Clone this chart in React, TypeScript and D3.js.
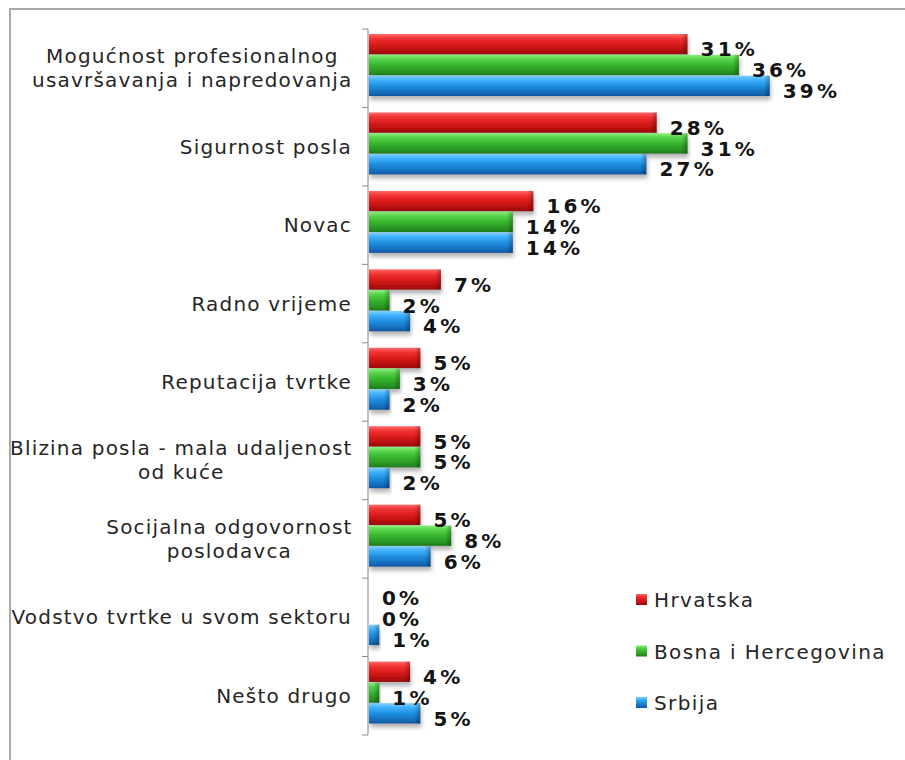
import React from "react";
import * as d3 from "d3";

const categories: string[][] = [
  ["Mogućnost profesionalnog", "usavršavanja i napredovanja"],
  ["Sigurnost posla"],
  ["Novac"],
  ["Radno vrijeme"],
  ["Reputacija tvrtke"],
  ["Blizina posla - mala udaljenost", "od kuće"],
  ["Socijalna odgovornost", "poslodavca"],
  ["Vodstvo tvrtke u svom sektoru"],
  ["Nešto drugo"],
];
const seriesNames = ["Hrvatska", "Bosna i Hercegovina", "Srbija"];
const hrvatska = [31, 28, 16, 7, 5, 5, 5, 0, 4];
const bih = [36, 31, 14, 2, 3, 5, 8, 0, 1];
const srbija = [39, 27, 14, 4, 2, 2, 6, 1, 5];
const seriesValues = [hrvatska, bih, srbija];

const palettes = [
  { id: "gRed", stops: ["#ff6a6a", "#f23434", "#dc1c1c", "#b81010", "#960a0a"] },
  { id: "gGreen", stops: ["#8cf07c", "#55d348", "#38b52e", "#2a9824", "#1f7a1a"] },
  { id: "gBlue", stops: ["#7fd0ff", "#3fb0ff", "#1f8fe0", "#1570c0", "#0f58a0"] },
];

const W = 905;
const H = 760;
const FONT = "'DejaVu Sans', Verdana, sans-serif";
const CAT_SIZE = 20;
const CAT_LS = 1.2;

let measureCtx: CanvasRenderingContext2D | null = null;
function textWidth(s: string, size: number, ls: number): number {
  if (!measureCtx) {
    const c = document.createElement("canvas");
    measureCtx = c.getContext("2d");
  }
  if (!measureCtx) return s.length * size * 0.6;
  measureCtx.font = `${size}px 'DejaVu Sans'`;
  return measureCtx.measureText(s).width + ls * (s.length - 1);
}

export default function App() {
  const y0 = d3.scaleBand<number>().domain(d3.range(categories.length)).range([29, 735]);
  const y1 = d3.scaleBand<number>().domain([0, 1, 2]).range([5, 67]).paddingInner(0.02);
  const x = d3.scaleLinear().domain([0, 40]).range([369, 780]);
  const axisX = 368;
  const labelRight = 352;

  return (
    <svg
      width={W}
      height={H}
      style={{ position: "absolute", left: 0, top: 0, display: "block", background: "#fff" }}
    >
      <defs>
        {palettes.map((p) => (
          <linearGradient key={p.id} id={p.id} x1="0" y1="0" x2="0" y2="1">
            <stop offset="0%" stopColor={p.stops[0]} />
            <stop offset="22%" stopColor={p.stops[1]} />
            <stop offset="50%" stopColor={p.stops[2]} />
            <stop offset="80%" stopColor={p.stops[3]} />
            <stop offset="100%" stopColor={p.stops[4]} />
          </linearGradient>
        ))}
        <linearGradient id="capShade" x1="0" y1="0" x2="1" y2="0">
          <stop offset="0%" stopColor="#000" stopOpacity={0} />
          <stop offset="100%" stopColor="#000" stopOpacity={0.28} />
        </linearGradient>
        <filter id="shadow" x="-5%" y="-20%" width="115%" height="160%">
          <feDropShadow dx="1" dy="4" stdDeviation="2" floodColor="#777" floodOpacity="0.55" />
        </filter>
      </defs>

      {/* frame */}
      <line x1={10} y1={9} x2={W} y2={9} stroke="#aaa" strokeWidth={2} />
      <line x1={10} y1={8} x2={10} y2={H} stroke="#aaa" strokeWidth={2} />

      {/* axis */}
      <line x1={axisX} y1={29} x2={axisX} y2={735} stroke="#888" strokeWidth={1} />
      {d3.range(categories.length + 1).map((i) => {
        const yy = i < categories.length ? (y0(i) as number) : 735;
        return (
          <line key={"t" + i} x1={axisX - 6} y1={yy} x2={axisX} y2={yy} stroke="#888" strokeWidth={1} />
        );
      })}

      {/* category labels */}
      {categories.map((lines, i) => {
        const cy = (y0(i) as number) + y0.bandwidth() / 2;
        const lh = 24;
        const maxW = Math.max(...lines.map((l) => textWidth(l, CAT_SIZE, CAT_LS)));
        const cx = labelRight - maxW / 2;
        return (
          <text
            key={"c" + i}
            textAnchor={lines.length > 1 ? "middle" : "end"}
            fontFamily={FONT}
            fontSize={CAT_SIZE}
            letterSpacing={CAT_LS}
            fill="#262626"
          >
            {lines.map((ln, k) => (
              <tspan
                key={k}
                x={lines.length > 1 ? cx : labelRight}
                y={cy + (k - (lines.length - 1) / 2) * lh + 7}
              >
                {ln}
              </tspan>
            ))}
          </text>
        );
      })}

      {/* bars */}
      {categories.map((_, i) => (
        <g key={"g" + i} transform={`translate(0,${y0(i)})`}>
          {seriesValues.map((vals, s) => {
            const v = vals[i];
            const by = y1(s) as number;
            const bh = y1.bandwidth();
            const w = x(v) - x(0);
            return (
              <g key={"b" + s}>
                {w > 0 && (
                  <g filter="url(#shadow)">
                    <rect x={x(0)} y={by} width={w} height={bh} fill={`url(#${palettes[s].id})`} />
                    <rect
                      x={x(v) - Math.min(6, w)}
                      y={by}
                      width={Math.min(6, w)}
                      height={bh}
                      fill="url(#capShade)"
                    />
                  </g>
                )}
              </g>
            );
          })}
          {seriesValues.map((vals, s) => {
            const v = vals[i];
            const by = y1(s) as number;
            const bh = y1.bandwidth();
            return (
              <text
                key={"l" + s}
                x={x(v) + 13}
                y={by + bh + 2}
                fontFamily={FONT}
                fontWeight="bold"
                fontSize={20}
                letterSpacing={3.2}
                fill="#141414"
              >
                {v + "%"}
              </text>
            );
          })}
        </g>
      ))}

      {/* legend */}
      {seriesNames.map((name, s) => {
        const cy = 600 + s * 51.5;
        return (
          <g key={"lg" + s}>
            <rect x={636} y={cy - 6} width={11} height={11} fill={`url(#${palettes[s].id})`} />
            <text
              x={654}
              y={cy + 7}
              fontFamily={FONT}
              fontSize={CAT_SIZE}
              letterSpacing={1.4}
              fill="#262626"
            >
              {name}
            </text>
          </g>
        );
      })}
    </svg>
  );
}
